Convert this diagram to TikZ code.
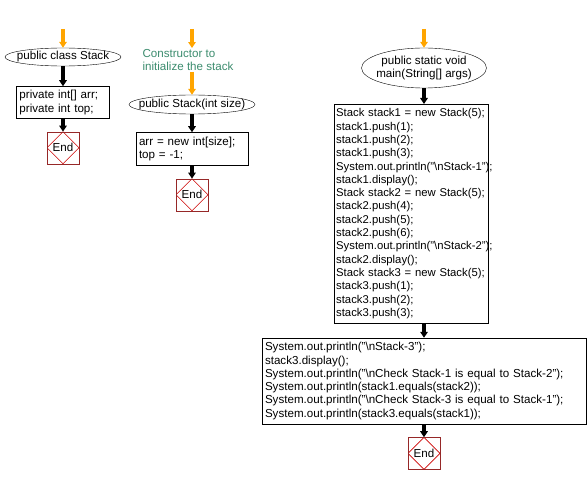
\documentclass[tikz,border=0pt]{standalone}
\usepackage{fontspec}
\setmainfont{Liberation Sans}
\usetikzlibrary{shapes.geometric, positioning, arrows.meta}
\definecolor{flowgold}{RGB}{255,165,0}
\definecolor{endred}{RGB}{150,40,40}
\definecolor{notegreen}{RGB}{60,140,110}

\begin{document}
\begin{tikzpicture}[x=1pt,y=-1pt,node distance=13pt,
                    font=\fontsize{11.6}{13.3}\selectfont,
                    flow/.style={draw,line width=3.5pt,-{Triangle[length=6pt,width=7.5pt]}},
                    entry/.style={flow,flowgold},
                    head/.style={draw,ellipse,inner ysep=0pt,inner xsep=-9pt,align=center},
                    block/.style={draw,rectangle,inner sep=3pt,align=left,
                      execute at begin node={\exhyphenpenalty=10000\hyphenpenalty=10000}},
                    stopbox/.style={draw=endred,rectangle,minimum size=32pt,inner sep=0pt,
                      path picture={\draw[red!80!black,line width=0.6pt]
                        (path picture bounding box.north) -- (path picture bounding box.east) --
                        (path picture bounding box.south) -- (path picture bounding box.west) -- cycle;}}]
                \useasboundingbox (0,0) rectangle (587,484);

                % class
                \coordinate (s1) at (63,29);
                \node[head,minimum width=116pt,minimum height=18pt] (cls) at (63,57) {public class Stack};
                \node[block,minimum height=32pt,text width=87pt] (fld) [below=20pt of cls]
                  {private int[] arr;\\private int top;};
                \node[stopbox] (end1) [below=13pt of fld] {End};

                % constructor
                \coordinate (s2) at (192,29);
                \node[notegreen,align=left,inner sep=1pt] (note) at (188,60)
                  {Constructor to\\initialize the stack};
                \node[head,minimum width=126pt,minimum height=19pt] (ct) at (192,104.5) {public Stack(int size)};
                \node[block,minimum height=33pt,text width=106pt] (ini) [below=18pt of ct]
                  {arr = new int[size];\\top = -1;};
                \node[stopbox] (end2) [below=13pt of ini] {End};

                % main
                \coordinate (s3) at (424,29);
                \node[head,minimum width=125pt,minimum height=40pt] (mn) at (424,68)
                  {public static void\\main(String[] args)};
                \node[block,anchor=north west,minimum height=219pt,text width=150pt,inner xsep=2pt,
                      font=\fontsize{11.3}{13.3}\selectfont] (stk) at (334,104)
                  {Stack stack1 = new Stack(5);\\stack1.push(1);\\stack1.push(2);\\stack1.push(3);\\
                   System.out.println("\textbackslash nStack-1");\\stack1.display();\\
                   Stack stack2 = new Stack(5);\\stack2.push(4);\\stack2.push(5);\\stack2.push(6);\\
                   System.out.println("\textbackslash nStack-2");\\stack2.display();\\
                   Stack stack3 = new Stack(5);\\stack3.push(1);\\stack3.push(2);\\stack3.push(3);};
                \node[block,minimum height=86pt,text width=318pt] (out) at (424,381)
                  {System.out.println("\textbackslash nStack-3");\\stack3.display();\\
                   System.out.println("\textbackslash nCheck Stack-1 is equal to Stack-2");\\
                   System.out.println(stack1.equals(stack2));\\
                   System.out.println("\textbackslash nCheck Stack-3 is equal to Stack-1");\\
                   System.out.println(stack3.equals(stack1));};
                \node[stopbox] (end3) [below=13pt of out] {End};

                \path
                (s1) edge[entry] (cls)
                (s2) edge[entry] (s2 |- note.north)
                (note.south -| ct) edge[entry] (ct)
                (s3) edge[entry] (mn.north)
                (cls) edge[flow] (fld)
                (fld) edge[flow] (end1)
                (ct) edge[flow] (ini)
                (ini) edge[flow] (end2)
                (mn) edge[flow] (mn |- stk.north)
                (stk.south -| out) edge[flow] (out)
                (out) edge[flow] (end3);
            \end{tikzpicture}
\end{document}
